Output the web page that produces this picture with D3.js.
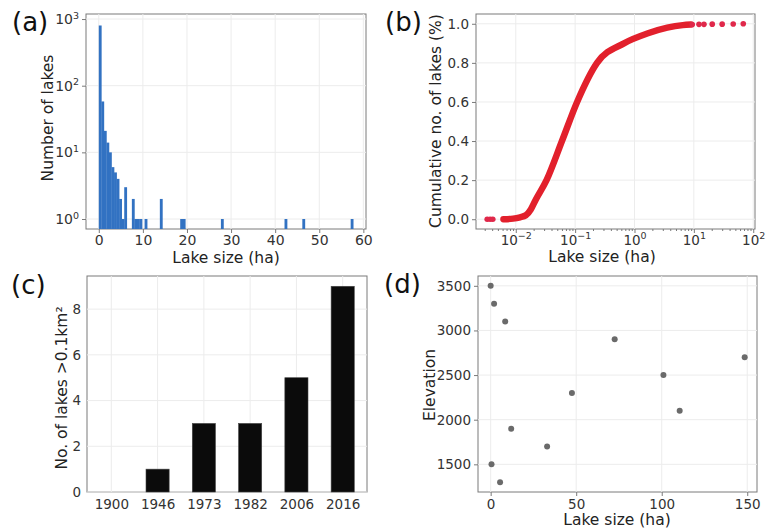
<!DOCTYPE html>
<html>
<head>
<meta charset="utf-8">
<script src="https://cdn.jsdelivr.net/npm/d3@7"></script>
<style>
  body { margin: 0; background: #fff; }
  svg { font-family: "DejaVu Sans", sans-serif; }
  .axlabel { fill: #222; font-size: 15.5px; }
  .panel { fill: #111; font-size: 26px; }
</style>
</head>
<body>
<svg id="chart" width="768" height="529"></svg>
<script>
// (a) histogram, 100 bins from 0 to 57.7 ha
const histMax = 57.7;
const histCounts = [
  800, 58, 21, 14, 10, 6, 5, 4, 2, 1,
  3, 0, 0, 2, 1, 1, 1, 0, 1, 0,
  0, 0, 0, 0, 2, 0, 0, 0, 0, 0,
  0, 0, 1, 1, 0, 0, 0, 0, 0, 0,
  0, 0, 0, 0, 0, 0, 0, 0, 1, 0,
  0, 0, 0, 0, 0, 0, 0, 0, 0, 0,
  0, 0, 0, 0, 0, 0, 0, 0, 0, 0,
  0, 0, 0, 1, 0, 0, 0, 0, 0, 0,
  1, 0, 0, 0, 0, 0, 0, 0, 0, 0,
  0, 0, 0, 0, 0, 0, 0, 0, 0, 1
];

// (b) cumulative curve (dense part) + sparse points
const cumSize = [0.0062, 0.0090, 0.0118, 0.0148, 0.0179, 0.0217, 0.033, 0.060, 0.108, 0.234, 0.665, 1.64, 3.56, 6.5, 8.9];
const cumFrac = [0.0, 0.003, 0.01, 0.02, 0.05, 0.10, 0.20, 0.40, 0.60, 0.80, 0.90, 0.95, 0.98, 0.993, 0.996];
const tailSize = [0.0033, 0.0037, 0.0041, 9.4, 12.2, 14.8, 20.4, 30, 46, 68];
const tailFrac = [0.0, 0.0, 0.0, 0.996, 0.997, 0.997, 0.998, 0.998, 0.999, 1.0];

// (c) lakes > 0.1 km2 per year
const years = ["1900", "1946", "1973", "1982", "2006", "2016"];
const bigLakes = [0, 1, 3, 3, 5, 9];

// (d) elevation vs lake size
const lakeSize = [0, 2, 8.5, 72.5, 148.5, 101, 47.5, 110.5, 12, 33, 0.5, 5.5];
const elevation = [3500, 3300, 3100, 2900, 2700, 2500, 2300, 2100, 1900, 1700, 1500, 1300];

const svg = d3.select("#chart");
const gridCol = "#ececec", spineCol = "#7a7a7a";

function frame(r) {
  const g = svg.append("g");
  g.append("rect").attr("x", r.x0).attr("y", r.y0)
    .attr("width", r.x1 - r.x0).attr("height", r.y1 - r.y0)
    .attr("fill", "none").attr("stroke", spineCol).attr("stroke-width", 1);
  return g;
}

function grid(g, r, xs, xt, ys, yt) {
  g.append("g").selectAll("line").data(xt).join("line")
    .attr("x1", d => xs(d)).attr("x2", d => xs(d))
    .attr("y1", r.y0).attr("y2", r.y1)
    .attr("stroke", gridCol);
  g.append("g").selectAll("line").data(yt).join("line")
    .attr("y1", d => ys(d)).attr("y2", d => ys(d))
    .attr("x1", r.x0).attr("x2", r.x1)
    .attr("stroke", gridCol);
}

function styleAxis(a, size) {
  a.attr("font-family", "DejaVu Sans").attr("font-size", size || 13.5);
  a.select(".domain").remove();
  a.selectAll(".tick line").attr("stroke", spineCol);
  a.selectAll(".tick text").attr("fill", "#333");
}

// log label 10^n
function powLabel(sel) {
  sel.selectAll(".tick text").each(function(d) {
    const t = d3.select(this).text("");
    const e = Math.round(Math.log10(d));
    t.append("tspan").text("10");
    t.append("tspan").attr("dy", "-0.55em").attr("font-size", "9.5px").text(e < 0 ? "\u2212" + (-e) : e);
  });
}

function label(text, x, y, rot) {
  const t = svg.append("text").attr("class", "axlabel").attr("text-anchor", "middle")
    .attr("x", x).attr("y", y).text(text);
  if (rot) t.attr("transform", `rotate(-90,${x},${y})`);
  return t;
}

function panel(text, x, y) {
  svg.append("text").attr("class", "panel").attr("x", x).attr("y", y).text(text);
}

// ---------- (a) ----------
{
  const r = {x0: 86, x1: 366, y0: 14, y1: 229};
  const x = d3.scaleLinear().domain([-2.9, 60.6]).range([r.x0, r.x1]);
  const y = d3.scaleLog().domain([0.708, 1190]).range([r.y1, r.y0]);
  const g = frame(r);
  grid(g, r, x, d3.range(0, 61, 10), y, [1, 10, 100, 1000]);
  const w = histMax / histCounts.length;
  g.append("g").selectAll("rect")
    .data(histCounts.map((c, i) => ({i, c})).filter(d => d.c > 0))
    .join("rect")
    .attr("x", d => x(d.i * w)).attr("width", d => x((d.i + 1) * w) - x(d.i * w) + 0.3)
    .attr("y", d => y(d.c)).attr("height", d => r.y1 - y(d.c))
    .attr("fill", "#3272c2");
  const xa = svg.append("g").attr("transform", `translate(0,${r.y1})`)
    .call(d3.axisBottom(x).tickValues(d3.range(0, 61, 10)).tickSize(4).tickPadding(2));
  styleAxis(xa, 14);
  const ya = svg.append("g").attr("transform", `translate(${r.x0},0)`)
    .call(d3.axisLeft(y).tickValues([1, 10, 100, 1000]).tickSize(4).tickPadding(3));
  styleAxis(ya, 14);
  powLabel(ya);
  label("Lake size (ha)", 226, 263);
  label("Number of lakes", 53, 118, true);
  panel("(a)", 12, 31);
}

// ---------- (b) ----------
{
  const r = {x0: 476, x1: 755, y0: 14, y1: 229};
  const x = d3.scaleLog().domain([Math.pow(10, -2.67), Math.pow(10, 2.03)]).range([r.x0, r.x1]);
  const y = d3.scaleLinear().domain([-0.05, 1.05]).range([r.y1, r.y0]);
  const g = frame(r);
  const major = [0.01, 0.1, 1, 10, 100];
  grid(g, r, x, major, y, d3.range(0, 1.01, 0.2));
  const red = "#e2202c";
  const line = d3.line().x((d, i) => x(cumSize[i])).y((d, i) => y(cumFrac[i])).curve(d3.curveMonotoneX);
  g.append("path").datum(cumSize).attr("d", line)
    .attr("fill", "none").attr("stroke", red).attr("stroke-width", 6.5).attr("stroke-linecap", "round");
  g.append("g").selectAll("circle").data(tailSize).join("circle")
    .attr("cx", d => x(d)).attr("cy", (d, i) => y(tailFrac[i])).attr("r", 2.8)
    .attr("fill", "#e0284a");
  const minor = [];
  [0.001, 0.01, 0.1, 1, 10].forEach(b => d3.range(2, 10).forEach(k => {
    const v = b * k; if (v >= x.domain()[0] && v <= x.domain()[1]) minor.push(v);
  }));
  const xm = svg.append("g").attr("transform", `translate(0,${r.y1})`)
    .call(d3.axisBottom(x).tickValues(minor).tickSize(2).tickFormat(""));
  styleAxis(xm);
  const xa = svg.append("g").attr("transform", `translate(0,${r.y1})`)
    .call(d3.axisBottom(x).tickValues(major).tickSize(4).tickPadding(2));
  styleAxis(xa);
  powLabel(xa);
  const ya = svg.append("g").attr("transform", `translate(${r.x0},0)`)
    .call(d3.axisLeft(y).tickValues(d3.range(0, 1.01, 0.2)).tickFormat(d3.format(".1f")).tickSize(4).tickPadding(3));
  styleAxis(ya);
  label("Cumulative no. of lakes (%)", 441, 121, true);
  label("Lake size (ha)", 602, 262);
  panel("(b)", 385, 31);
}

// ---------- (c) ----------
{
  const r = {x0: 87, x1: 367, y0: 276, y1: 492};
  const x = d3.scaleLinear().domain([-0.525, 5.525]).range([r.x0, r.x1]);
  const y = d3.scaleLinear().domain([0, 9.45]).range([r.y1, r.y0]);
  const g = frame(r);
  grid(g, r, x, d3.range(years.length), y, [0, 2, 4, 6, 8]);
  g.append("g").selectAll("rect").data(bigLakes).join("rect")
    .attr("x", (d, i) => x(i - 0.25)).attr("width", x(0.5) - x(0))
    .attr("y", d => y(d)).attr("height", d => y(0) - y(d))
    .attr("fill", "#0b0b0b").attr("stroke", "#444").attr("stroke-width", 0.6);
  const xa = svg.append("g").attr("transform", `translate(0,${r.y1})`)
    .call(d3.axisBottom(x).tickValues(d3.range(years.length)).tickFormat(i => years[i]).tickSize(0).tickPadding(7));
  styleAxis(xa);
  const ya = svg.append("g").attr("transform", `translate(${r.x0},0)`)
    .call(d3.axisLeft(y).tickValues([0, 2, 4, 6, 8]).tickSize(0).tickPadding(6));
  styleAxis(ya);
  label("No. of lakes >0.1km\u00b2", 67, 388, true);
  panel("(c)", 11, 294);
}

// ---------- (d) ----------
{
  const r = {x0: 478, x1: 757, y0: 276, y1: 492};
  const x = d3.scaleLinear().domain([-7.4, 155.7]).range([r.x0, r.x1]);
  const y = d3.scaleLinear().domain([1190, 3610]).range([r.y1, r.y0]);
  const g = frame(r);
  const yt = d3.range(1500, 3501, 500);
  grid(g, r, x, [0, 50, 100, 150], y, yt);
  g.append("g").selectAll("circle").data(lakeSize).join("circle")
    .attr("cx", d => x(d)).attr("cy", (d, i) => y(elevation[i])).attr("r", 3)
    .attr("fill", "#6a6a6a");
  const xa = svg.append("g").attr("transform", `translate(0,${r.y1})`)
    .call(d3.axisBottom(x).tickValues([0, 50, 100, 150]).tickSize(4).tickPadding(3));
  styleAxis(xa);
  const ya = svg.append("g").attr("transform", `translate(${r.x0},0)`)
    .call(d3.axisLeft(y).tickValues(yt).tickFormat(d3.format("d")).tickSize(4).tickPadding(3));
  styleAxis(ya);
  label("Elevation", 435, 385, true);
  label("Lake size (ha)", 617, 525);
  panel("(d)", 384, 293);
}
</script>
</body>
</html>
